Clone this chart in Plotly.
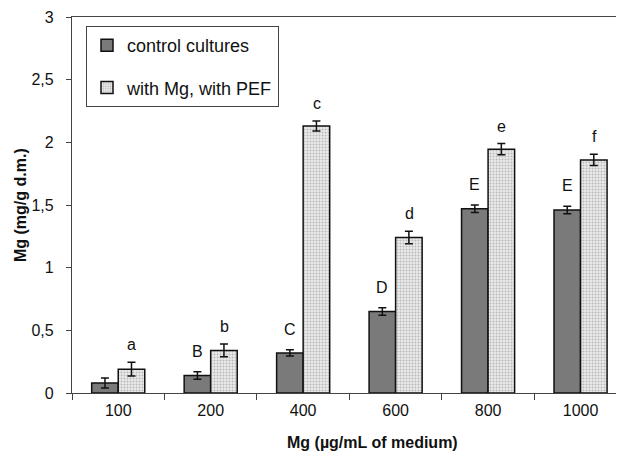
import plotly.graph_objects as go

categories = ["100", "200", "400", "600", "800", "1000"]
control = [0.08, 0.14, 0.32, 0.65, 1.47, 1.46]
control_err = [0.04, 0.03, 0.025, 0.03, 0.03, 0.03]
pef = [0.19, 0.34, 2.13, 1.24, 1.945, 1.86]
pef_err = [0.055, 0.05, 0.04, 0.05, 0.045, 0.045]
control_letters = ["", "B", "C", "D", "E", "E"]
pef_letters = ["a", "b", "c", "d", "e", "f"]

font = "Liberation Sans, Arial, sans-serif"

# page body has an 8px margin; figure is sized so the plot lands where the reference has it
W, H = 616, 448
ML, MT, MB, MR = 64, 9, 63, 0
PW, PH = W - ML - MR, H - MT - MB

fig = go.Figure()
fig.add_trace(go.Bar(
    x=categories, y=control, name="control cultures", legendgroup="g1",
    marker=dict(color="#7a7a7a", line=dict(color="#111111", width=1.5)),
    error_y=dict(type="data", array=control_err, color="#111111", thickness=1.5, width=4),
))
fig.add_trace(go.Bar(
    x=categories, y=pef, name="with Mg, with PEF", legendgroup="g2",
    marker=dict(color="#e6e6e6", line=dict(color="#111111", width=1.5),
                pattern=dict(shape=".", size=3, solidity=0.35, fgcolor="#888888", bgcolor="#eaeaea")),
    error_y=dict(type="data", array=pef_err, color="#111111", thickness=1.5, width=4),
))

for i, c in enumerate(categories):
    if control_letters[i]:
        fig.add_annotation(x=i, y=control[i] + control_err[i], text=control_letters[i],
                           xref="x", yref="y", showarrow=False, xshift=-13.5, yshift=10,
                           yanchor="bottom", font=dict(family=font, size=16, color="#111"))
    fig.add_annotation(x=i, y=pef[i] + pef_err[i], text=pef_letters[i],
                       xref="x", yref="y", showarrow=False, xshift=13.5, yshift=7,
                       yanchor="bottom", font=dict(family=font, size=16, color="#111"))

# axis titles (screen px -> paper coords, accounting for 8px page offset)
fig.add_annotation(x=(372 - 8 - ML) / PW, y=(H - (443 - 8) - MB) / PH, xref="paper", yref="paper",
                   text="<b>Mg (µg/mL of medium)</b>", showarrow=False,
                   xanchor="center", yanchor="middle", font=dict(family=font, size=16, color="#111"))
fig.add_annotation(x=(20 - 8 - ML) / PW, y=0.5, xref="paper", yref="paper", text="<b>Mg (mg/g d.m.)</b>",
                   textangle=-90, showarrow=False, xanchor="center", yanchor="middle",
                   font=dict(family=font, size=16, color="#111"))

fig.update_layout(
    width=W, height=H,
    margin=dict(l=ML, r=MR, t=MT, b=MB, autoexpand=False),
    paper_bgcolor="white", plot_bgcolor="white",
    separators=", ",
    barmode="group", bargap=0.426, bargroupgap=0,
    font=dict(family=font, size=16, color="#111"),
    legend=dict(x=(86 - 8 - ML) / PW, y=1 - (26 - 8 - MT) / PH, xanchor="left", yanchor="top",
                bordercolor="#444", borderwidth=1, bgcolor="white",
                font=dict(size=18), tracegroupgap=16, traceorder="grouped",
                itemwidth=30),
    xaxis=dict(type="category", range=[-0.5, 5.47], showline=True, linecolor="#444", linewidth=1.2,
               mirror=True, ticks="outside", ticklen=6, tickcolor="#444",
               tickson="boundaries", showgrid=False, automargin=False,
               ticklabelstandoff=3),
    yaxis=dict(range=[0, 3], dtick=0.5, showline=True, linecolor="#444", linewidth=1.2,
               ticks="outside", ticklen=5, tickcolor="#444", showgrid=False, zeroline=False,
               tickformat=".1~f", automargin=False, ticklabelstandoff=9),
)

fig.write_html("out.html")
